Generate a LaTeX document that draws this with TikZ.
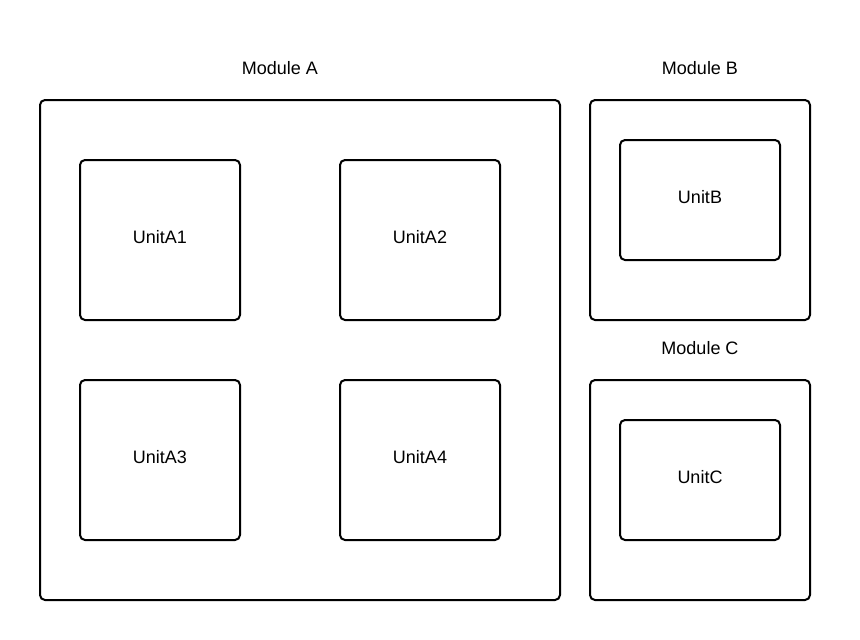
\documentclass[tikz,border=0pt]{standalone}
\usepackage{fontspec}
\setmainfont{Liberation Sans}
\begin{document}
\begin{tikzpicture}[x=1pt,y=-1pt,
  box/.style={draw=black,line width=2pt,rounded corners=5pt},
  lbl/.style={font=\fontsize{18}{21}\selectfont,inner sep=0pt,anchor=center}]
\useasboundingbox (0,0) rectangle (860,640);
\fill[white] (0,0) rectangle (860,640);
% modules
\draw[box] (40,100) rectangle (560,600);
\draw[box] (590,100) rectangle (810,320);
\draw[box] (590,380) rectangle (810,600);
\node[lbl] (lA) at (280,68) {Module A};
\node[lbl] (lB) at (700,68) {Module B};
\node[lbl] (lC) at (700,348) {Module C};
% units
\draw[box] (80,160) rectangle (240,320);
\node[lbl] (a1) at (160,237.5) {UnitA1};
\draw[box] (340,160) rectangle (500,320);
\node[lbl] (a2) at (420,237.5) {UnitA2};
\draw[box] (80,380) rectangle (240,540);
\node[lbl] (a3) at (160,457.5) {UnitA3};
\draw[box] (340,380) rectangle (500,540);
\node[lbl] (a4) at (420,457.5) {UnitA4};
\draw[box] (620,140) rectangle (780,260);
\node[lbl] (b) at (700,197.5) {UnitB};
\draw[box] (620,420) rectangle (780,540);
\node[lbl] (c) at (700,477.5) {UnitC};
\end{tikzpicture}
\end{document}
